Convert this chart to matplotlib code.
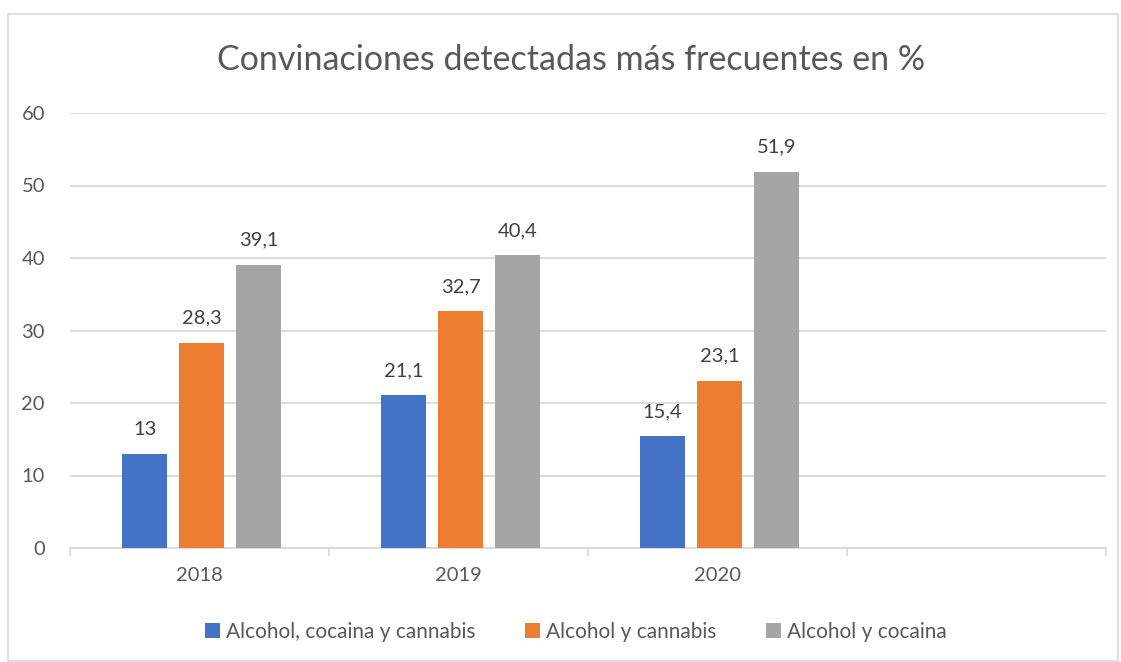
import numpy as np
import matplotlib
matplotlib.use("Agg")
import matplotlib.pyplot as plt
from matplotlib.patches import Rectangle

plt.rcParams["font.family"] = ["Lato", "DejaVu Sans"]

# Data
years = ["2018", "2019", "2020", ""]
series = ["Alcohol, cocaina y cannabis", "Alcohol y cannabis", "Alcohol y cocaina"]
acc = [13, 21.1, 15.4]
ac_cannabis = [28.3, 32.7, 23.1]
ac_cocaina = [39.1, 40.4, 51.9]
colors = ["#4472C4", "#ED7D31", "#A5A5A5"]

text_col = "#595959"
grid_col = "#D9D9D9"

fig = plt.figure(figsize=(11.21, 6.62), dpi=100)
# chart frame
fig.patches.append(Rectangle((8 / 1121, 0.002), 1110 / 1121, 1 - 14 / 662 - 0.002,
                             transform=fig.transFigure, fill=False,
                             edgecolor="#D9D9D9", linewidth=1.2))

ax = fig.add_axes([70 / 1121, 1 - 548 / 662, 1036 / 1121, 435 / 662])

x = np.arange(3)
width = 0.174
offsets = [-0.212, 0.008, 0.228]
for vals, off, col, name in zip([acc, ac_cannabis, ac_cocaina], offsets, colors, series):
    bars = ax.bar(x + off, vals, width, color=col, label=name, zorder=3)
    for b, v in zip(bars, vals):
        lbl = f"{v:g}".replace(".", ",")
        ax.text(b.get_x() + b.get_width() / 2, v + 2.2, lbl, ha="center", va="bottom",
                fontsize=14.5, color="#404040")

ax.set_xlim(-0.5, 3.5)
ax.set_ylim(0, 60)
ax.set_yticks(range(0, 61, 10))
ax.yaxis.grid(True, color=grid_col, linewidth=1.3, zorder=0)
ax.set_axisbelow(True)

ax.set_xticks([-0.5, 0.5, 1.5, 2.5, 3.5])
ax.set_xticklabels([])
ax.set_xticks([0, 1, 2], minor=True)
ax.set_xticklabels(years[:3], minor=True)
ax.tick_params(axis="x", which="major", length=6, color=grid_col, width=1.3)
ax.tick_params(axis="x", which="minor", length=0, pad=14, labelsize=14.5, labelcolor=text_col)
ax.tick_params(axis="y", length=0, pad=18, labelsize=14.5, labelcolor=text_col)

for s in ["top", "right", "left"]:
    ax.spines[s].set_visible(False)
ax.spines["bottom"].set_color(grid_col)
ax.spines["bottom"].set_linewidth(1.3)

fig.text(571 / 1121, 1 - 60 / 662, "Convinaciones detectadas más frecuentes en %",
         ha="center", va="center", fontsize=24.5, color=text_col)

leg = fig.legend(loc="center", bbox_to_anchor=(576 / 1121, 1 - 632 / 662), ncol=3,
                 frameon=False, fontsize=15, handlelength=0.7, handleheight=0.7,
                 handletextpad=0.3, columnspacing=2.4)
for t in leg.get_texts():
    t.set_color(text_col)

fig.savefig("out.png", dpi=100, facecolor="white")
